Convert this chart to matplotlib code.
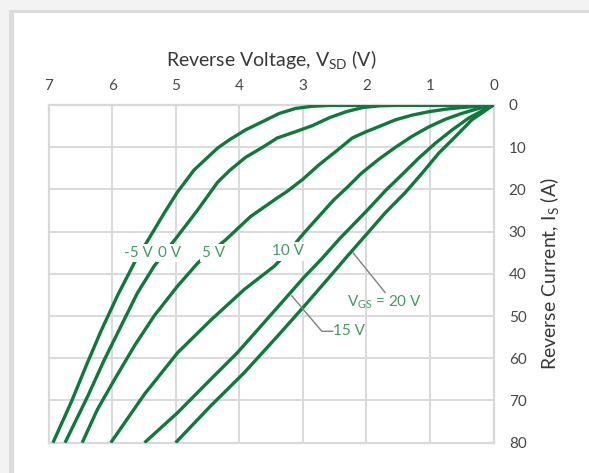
import matplotlib.pyplot as plt
from matplotlib.patches import Rectangle

# curve data: reverse voltage V_SD (V) vs reverse current I_S (A)
v_m5 = [0, 2.58, 2.85, 3.11, 3.37, 3.60, 3.90, 4.15, 4.34, 4.71, 4.97, 5.18, 5.41, 5.65, 5.91, 6.17, 6.40, 6.64, 6.93]
i_m5 = [0, 0.1, 0.3, 0.8, 2.0, 3.7, 5.9, 8.2, 10.2, 15.4, 20.6, 25.6, 31.4, 37.4, 45.0, 53.4, 61.5, 70.3, 80]

v_0 = [0, 1.54, 1.80, 2.06, 2.32, 2.58, 2.85, 3.11, 3.40, 3.63, 3.90, 4.15, 4.34, 4.65, 4.97,
       5.34, 5.60, 5.86, 6.12, 6.38, 6.74]
i_0 = [0, 0.1, 0.2, 0.6, 1.6, 3.0, 4.9, 6.3, 7.8, 10.0, 12.4, 15.5, 18.3, 24.8, 31.1,
       38.2, 44.5, 52.4, 60.3, 68.9, 80]

v_5 = [0, 0.50, 0.76, 1.02, 1.28, 1.54, 1.80, 2.0, 2.22, 2.48, 2.74, 3.0, 3.24, 3.40, 3.82,
       4.21, 4.65, 4.97, 5.34, 5.65, 5.96, 6.23, 6.47]
i_5 = [0, 0.6, 1.0, 1.6, 2.4, 3.5, 5.1, 6.3, 7.8, 11.0, 14.1, 17.6, 20.4, 22.0, 26.4,
       31.9, 37.4, 42.9, 50.0, 57.1, 65.0, 72.1, 80]

v_10 = [0, 0.23, 0.50, 0.76, 1.02, 1.28, 1.54, 1.80, 2.08, 2.30, 2.52, 2.98, 3.23, 3.45, 3.92,
        4.45, 4.97, 5.49, 6.02]
i_10 = [0, 0.8, 2.0, 3.4, 5.2, 7.4, 10.0, 12.8, 16.2, 19.5, 22.6, 30.3, 34.8, 38.2, 43.7,
        51.0, 58.7, 68.5, 80]

v_15 = [0, 0.18, 0.39, 0.65, 0.91, 1.17, 1.44, 1.70, 1.99, 2.41, 2.70, 2.98, 3.29, 3.66, 4.03,
        4.45, 4.97, 5.49]
i_15 = [0, 1.4, 3.1, 5.9, 9.0, 12.5, 16.5, 20.3, 25.0, 31.5, 36.4, 40.8, 46.1, 52.4, 58.7,
        65.0, 72.9, 80]

v_20 = [0, 0.34, 0.60, 0.86, 1.12, 1.38, 1.70, 1.99, 2.31, 2.52, 2.98, 3.40, 3.92, 4.45, 5.0]
i_20 = [0, 3.5, 7.5, 11.4, 16.1, 20.6, 25.5, 30.5, 36.0, 39.7, 47.7, 54.8, 63.4, 71.3, 80]

curves = [(v_m5, i_m5), (v_0, i_0), (v_5, i_5), (v_10, i_10), (v_15, i_15), (v_20, i_20)]

# in-line labels (text, V, I)
inline_labels = [("-5 V", 5.585, 35.0), ("0 V", 5.09, 35.0), ("5 V", 4.40, 35.0), ("10 V", 3.23, 34.7)]

x_ticks = [0, 1, 2, 3, 4, 5, 6, 7]
y_ticks = [0, 10, 20, 30, 40, 50, 60, 70, 80]

line_col = '#0b7a3b'
label_col = '#3f9d62'
grid_col = '#d9d9d9'
text_col = '#474747'

plt.rcParams['font.family'] = ['Lato', 'DejaVu Sans']
plt.rcParams['mathtext.default'] = 'regular'

fig = plt.figure(figsize=(5.89, 4.73), dpi=100)
fig.patch.set_facecolor('#f3f3f3')
W, H = 589.0, 473.0
# card with a grey edge on the top and left
fig.patches.append(Rectangle((9 / W, 0), 1, 1 - 10 / H, transform=fig.transFigure,
                             facecolor='#dcdcdc', edgecolor='none', zorder=-5))
fig.patches.append(Rectangle((14 / W, 0), 1, 1 - 13 / H, transform=fig.transFigure,
                             facecolor='white', edgecolor='none', zorder=-4))

ax = fig.add_axes([48.5 / W, 1 - 442.7 / H, 445 / W, 337.7 / H])
ax.set_facecolor('white')

for v, i in curves:
    ax.plot(v, i, color=line_col, lw=2.4, solid_capstyle='butt', solid_joinstyle='round', zorder=3)

ax.set_xlim(7, 0)
ax.set_ylim(80, 0)
ax.set_xticks(x_ticks)
ax.set_yticks(y_ticks)
ax.xaxis.tick_top()
ax.xaxis.set_label_position('top')
ax.yaxis.tick_right()
ax.yaxis.set_label_position('right')
ax.tick_params(axis='both', length=0, colors=text_col, labelsize=11)
ax.tick_params(axis='x', pad=9)
ax.tick_params(axis='y', pad=11)
for lab in ax.get_yticklabels():
    lab.set_horizontalalignment('left')
ax.grid(True, color=grid_col, lw=1.4, zorder=0)
for s in ax.spines.values():
    s.set_color(grid_col)
    s.set_linewidth(1.6)

ax.set_xlabel('Reverse Voltage, V$_{SD}$ (V)', fontsize=14, color='#383838', labelpad=9)
ax.set_ylabel('Reverse Current, I$_S$ (A)', fontsize=14, color='#383838', labelpad=8)

for txt, x, y in inline_labels:
    ax.text(x, y, txt, color=label_col, fontsize=11, ha='center', va='center', zorder=5,
            bbox=dict(facecolor='white', edgecolor='none', pad=1.5))

# leader lines for 20 V and 15 V
ax.plot([2.204, 1.706], [35.1, 44.4], color='#808080', lw=1, zorder=4)
ax.text(2.31, 46.7, 'V$_{GS}$ = 20 V', color=label_col, fontsize=11, ha='left', va='center', zorder=5)
ax.plot([3.173, 2.701, 2.53], [45.2, 53.6, 53.6], color='#808080', lw=1, zorder=4)
ax.text(2.53, 53.6, '15 V', color=label_col, fontsize=11, ha='left', va='center', zorder=5)

fig.savefig('out.png', dpi=100, facecolor=fig.get_facecolor())
